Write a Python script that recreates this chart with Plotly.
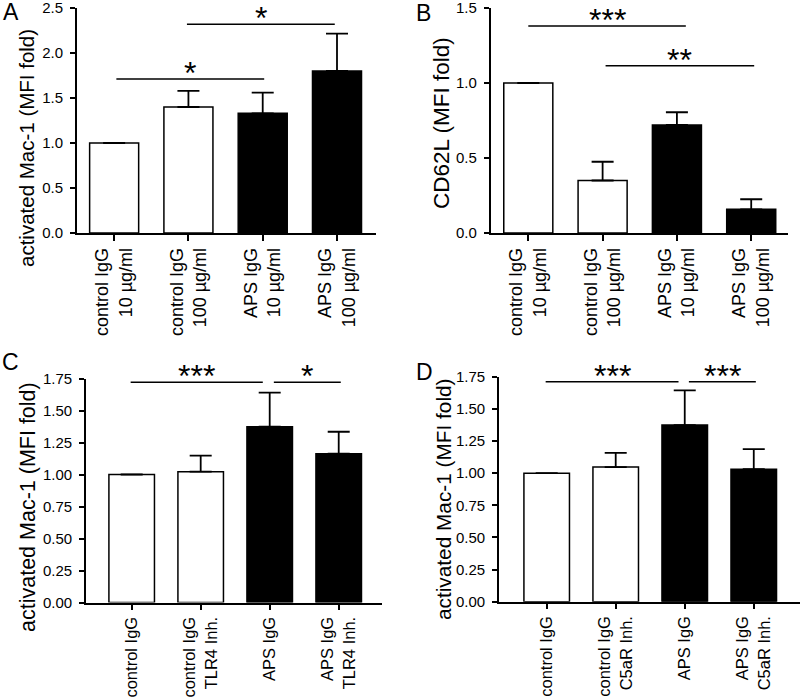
import plotly.graph_objects as go

# ---------------- data ----------------
cats_A = ["control IgG<br>10 µg/ml", "control IgG<br>100 µg/ml", "APS IgG<br>10 µg/ml", "APS IgG<br>100 µg/ml"]
mean_A = [1.00, 1.40, 1.33, 1.80]
errtop_A = [1.00, 1.58, 1.56, 2.215]

cats_B = ["control IgG<br>10 µg/ml", "control IgG<br>100 µg/ml", "APS IgG<br>10 µg/ml", "APS IgG<br>100 µg/ml"]
mean_B = [1.00, 0.35, 0.72, 0.158]
errtop_B = [1.00, 0.475, 0.805, 0.225]

cats_C = ["control IgG", "control IgG<br>TLR4 Inh.", "APS IgG", "APS IgG<br>TLR4 Inh."]
mean_C = [1.00, 1.022, 1.373, 1.163]
errtop_C = [1.00, 1.147, 1.639, 1.334]

cats_D = ["control IgG", "control IgG<br>C5aR Inh.", "APS IgG", "APS IgG<br>C5aR Inh."]
mean_D = [1.00, 1.047, 1.374, 1.031]
errtop_D = [1.00, 1.158, 1.643, 1.187]

fills = ["white", "white", "black", "black"]

# significance brackets: (x_start, x_end, y, label)
sig_A = [(0.03, 2.02, 1.71, "*"), (0.98, 2.97, 2.32, "*")]
sig_B = [(0.0, 2.12, 1.38, "***"), (1.04, 3.04, 1.115, "**")]
sig_C = [(-0.015, 1.90, 1.72, "***"), (2.06, 3.03, 1.72, "*")]
sig_D = [(-0.015, 1.91, 1.71, "***"), (2.06, 3.03, 1.71, "***")]

ytitle_A = "activated Mac-1 (MFI fold)"
ytitle_B = "CD62L (MFI fold)"
ytitle_C = "activated Mac-1 (MFI fold)"
ytitle_D = "activated Mac-1 (MFI fold)"

# ---------------- layout helpers ----------------
W, H = 800, 697
FONT = "Liberation Sans, Arial, sans-serif"


def xdom(a, b):
    return [a / W, min(b / W, 1.0)]


def ydom(top, bottom):
    return [1 - bottom / H, 1 - top / H]


panels = [
    dict(cats=cats_A, mean=mean_A, top=errtop_A, sig=sig_A, title=ytitle_A, letter="A",
         xd=xdom(77, 376), yd=ydom(8, 233), xr=[-0.5, 3.525], yr=[0, 2.5], dt=0.5, fmt=".1f",
         tfs=18, titlepos=(26, 148, 20.5), letterpos=(11, 12)),
    dict(cats=cats_B, mean=mean_B, top=errtop_B, sig=sig_B, title=ytitle_B, letter="B",
         xd=xdom(490.7, 788), yd=ydom(8, 233), xr=[-0.506, 3.495], yr=[0, 1.5], dt=0.5, fmt=".1f",
         tfs=18, titlepos=(441, 123, 22.5), letterpos=(423, 13)),
    dict(cats=cats_C, mean=mean_C, top=errtop_C, sig=sig_C, title=ytitle_C, letter="C",
         xd=xdom(86, 381.7), yd=ydom(378.5, 602.5), xr=[-0.662, 3.623], yr=[0, 1.75], dt=0.25, fmt=".2f",
         tfs=16.5, titlepos=(28, 507, 21.5), letterpos=(10, 362)),
    dict(cats=cats_D, mean=mean_D, top=errtop_D, sig=sig_D, title=ytitle_D, letter="D",
         xd=xdom(499, 800), yd=ydom(376.7, 601.7), xr=[-0.691, 3.67], yr=[0, 1.75], dt=0.25, fmt=".2f",
         tfs=16.5, titlepos=(443, 499, 20.8), letterpos=(424, 372)),
]

fig = go.Figure()
shapes = []
annotations = []
layout = {}

for i, p in enumerate(panels):
    n = "" if i == 0 else str(i + 1)
    xs = list(range(len(p["cats"])))
    err = [t - m for t, m in zip(p["top"], p["mean"])]
    fig.add_trace(go.Bar(
        x=xs, y=p["mean"], width=0.66,
        marker=dict(color=fills, line=dict(color="black", width=1.5)),
        error_y=dict(type="data", array=err, arrayminus=[0] * len(err), symmetric=False,
                     color="black", thickness=1.8, width=11),
        xaxis="x" + n, yaxis="y" + n, showlegend=False,
    ))
    layout["xaxis" + n] = dict(
        domain=p["xd"], range=p["xr"], anchor="y" + n, automargin=False,
        tickmode="array", tickvals=xs, ticktext=p["cats"], tickangle=-90,
        ticklabeloverflow="allow",
        showline=True, linecolor="black", linewidth=1.5,
        ticks="outside", ticklen=6, tickwidth=1.5, tickcolor="black",
        showgrid=False, zeroline=False, fixedrange=True,
        tickfont=dict(family=FONT, size=p["tfs"], color="black"),
    )
    layout["yaxis" + n] = dict(
        domain=p["yd"], range=p["yr"], anchor="x" + n, automargin=False,
        dtick=p["dt"], tick0=0, tickformat=p["fmt"], ticksuffix="\u00a0",
        ticklabeloverflow="allow",
        showline=True, linecolor="black", linewidth=1.5,
        ticks="outside", ticklen=5, tickwidth=1.5, tickcolor="black",
        showgrid=False, zeroline=False, fixedrange=True,
        tickfont=dict(family=FONT, size=15, color="black"),
    )
    for (x0, x1, yv, lab) in p["sig"]:
        shapes.append(dict(type="line", xref="x" + n, yref="y" + n, x0=x0, x1=x1, y0=yv, y1=yv,
                           line=dict(color="black", width=1.5)))
        annotations.append(dict(xref="x" + n, yref="y" + n, x=(x0 + x1) / 2, y=yv, text=lab,
                                showarrow=False, yanchor="bottom", yshift=-14,
                                font=dict(family=FONT, size=32, color="black")))
    tx, ty, tfs = p["titlepos"]
    annotations.append(dict(xref="paper", yref="paper", x=tx / W, y=1 - ty / H, text=p["title"],
                            textangle=-90, showarrow=False, xanchor="center", yanchor="middle",
                            font=dict(family=FONT, size=tfs, color="black")))
    lx, ly = p["letterpos"]
    annotations.append(dict(xref="paper", yref="paper", x=lx / W, y=1 - ly / H, text=p["letter"],
                            showarrow=False, xanchor="center", yanchor="middle",
                            font=dict(family=FONT, size=23, color="black")))

fig.update_layout(
    width=W, height=H,
    margin=dict(l=0, r=0, t=0, b=0, autoexpand=False),
    paper_bgcolor="white", plot_bgcolor="white",
    shapes=shapes, annotations=annotations,
    **layout,
)

fig.write_html("out.html", config={"displayModeBar": False},
               post_script="document.body.style.margin='0px';document.body.style.overflow='hidden';")
